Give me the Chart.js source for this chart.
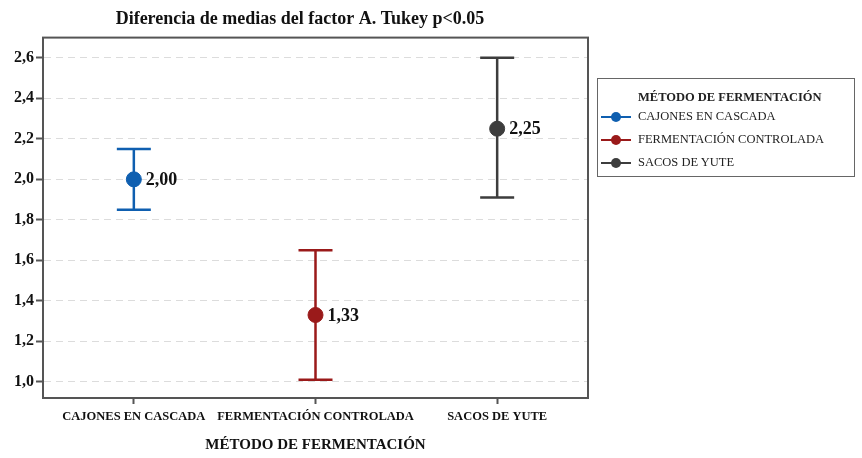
<!DOCTYPE html>
<html>
<head>
<meta charset="utf-8">
<script src="https://cdn.jsdelivr.net/npm/chart.js@4.4.1/dist/chart.umd.min.js"></script>
<style>
  body { margin: 0; background: #fff; }
  #wrap { position: relative; width: 862px; height: 458px; }
  #legend {
    position: absolute; left: 597px; top: 78px; width: 258px; height: 99px;
    border: 1px solid #666; box-sizing: border-box;
    font-family: "Liberation Serif", serif; color: #222;
  }
  #legend .ttl { font-weight: bold; font-size: 12.5px; margin: 11px 0 0 40px; }
  #legend .item { display: flex; align-items: center; height: 23px; font-size: 12.5px; }
  #legend .mk { position: relative; width: 30px; height: 10px; margin: 0 7px 0 3px; }
  #legend .mk .ln { position: absolute; left: 0; right: 0; top: 4px; height: 2.5px; }
  #legend .mk .dt { position: absolute; left: 10px; top: 0; width: 10px; height: 10px; border-radius: 50%; }
</style>
</head>
<body>
<div id="wrap">
  <canvas id="chart" width="862" height="458"></canvas>
  <div id="legend"></div>
</div>
<script>
const categories = ['CAJONES EN CASCADA', 'FERMENTACIÓN CONTROLADA', 'SACOS DE YUTE'];
const means = [2.00, 1.33, 2.25];
const lower = [1.85, 1.01, 1.91];
const upper = [2.15, 1.65, 2.60];
const colors = ['#0f5fb0', '#9a1a1a', '#3d3d3d'];
const yTicks = [1.0, 1.2, 1.4, 1.6, 1.8, 2.0, 2.2, 2.4, 2.6];
const title = 'Diferencia de medias del factor A. Tukey p<0.05';
const axisTitle = 'MÉTODO DE FERMENTACIÓN';

const serif = '"Liberation Serif", "Times New Roman", serif';
const fmt = (v, d) => v.toFixed(d).replace('.', ',');

// legend in html
const legendEl = document.getElementById('legend');
legendEl.innerHTML = '<div class="ttl">' + axisTitle + '</div>' +
  categories.map((c, i) =>
    '<div class="item"><div class="mk"><div class="ln" style="background:' + colors[i] +
    '"></div><div class="dt" style="background:' + colors[i] + '"></div></div>' + c + '</div>'
  ).join('');

const errorBars = {
  id: 'errorBars',
  beforeDatasetsDraw(chart) {
    const { ctx, scales: { x, y } } = chart;
    ctx.save();
    ctx.setLineDash([]);
    ctx.lineWidth = 2.5;
    categories.forEach((c, i) => {
      const px = x.getPixelForValue(i);
      const lo = y.getPixelForValue(lower[i]);
      const hi = y.getPixelForValue(upper[i]);
      ctx.strokeStyle = colors[i];
      ctx.beginPath();
      ctx.moveTo(px, lo); ctx.lineTo(px, hi);
      ctx.moveTo(px - 17, lo); ctx.lineTo(px + 17, lo);
      ctx.moveTo(px - 17, hi); ctx.lineTo(px + 17, hi);
      ctx.stroke();
    });
    ctx.restore();
  },
  afterDatasetsDraw(chart) {
    const { ctx, scales: { x, y }, chartArea: a } = chart;
    ctx.save();
    ctx.font = 'bold 18px ' + serif;
    ctx.fillStyle = '#111';
    ctx.textBaseline = 'middle';
    categories.forEach((c, i) => {
      ctx.fillText(fmt(means[i], 2), x.getPixelForValue(i) + 12, y.getPixelForValue(means[i]) + 1);
    });
    // frame
    ctx.setLineDash([]);
    ctx.strokeStyle = '#555';
    ctx.lineWidth = 2;
    ctx.strokeRect(a.left, a.top, a.right - a.left, a.bottom - a.top);
    ctx.restore();
  }
};

new Chart(document.getElementById('chart'), {
  type: 'line',
  data: {
    labels: categories,
    datasets: categories.map((c, i) => ({
      label: c,
      data: categories.map((_, j) => (j === i ? means[i] : null)),
      showLine: false,
      pointRadius: 7.5,
      pointHoverRadius: 7.5,
      pointBackgroundColor: colors[i],
      pointBorderColor: colors[i],
      borderColor: colors[i]
    }))
  },
  options: {
    responsive: false,
    animation: false,
    layout: { padding: { top: 4, right: 274, bottom: 4, left: 12 } },
    plugins: {
      legend: { display: false },
      tooltip: { enabled: false },
      title: {
        display: true,
        text: title,
        fullSize: true,
        color: '#111',
        font: { family: serif, size: 18, weight: 'bold' },
        padding: { top: 5, bottom: 7 }
      }
    },
    scales: {
      x: {
        offset: true,
        grid: { display: true, drawOnChartArea: false, drawTicks: true, tickLength: 6, tickColor: '#555', tickWidth: 2 },
        border: { color: '#555', width: 2 },
        ticks: { color: '#111', font: { family: serif, size: 12.5, weight: 'bold' }, maxRotation: 0, autoSkip: false, padding: 5 },
        title: { display: true, text: axisTitle, color: '#111', font: { family: serif, size: 15, weight: 'bold' }, padding: { top: 7, bottom: 0 } }
      },
      y: {
        min: 0.92,
        max: 2.70,
        afterBuildTicks(scale) { scale.ticks = yTicks.map(v => ({ value: v })); },
        grid: { color: '#dcdcdc', drawTicks: true, tickLength: 7, tickColor: '#555', tickWidth: 2, tickBorderDash: [] },
        border: { color: '#555', width: 2, dash: [7, 5] },
        ticks: { color: '#111', font: { family: serif, size: 16, weight: 'bold' }, padding: 2, callback: v => fmt(v, 1) }
      }
    }
  },
  plugins: [errorBars]
});
</script>
</body>
</html>
